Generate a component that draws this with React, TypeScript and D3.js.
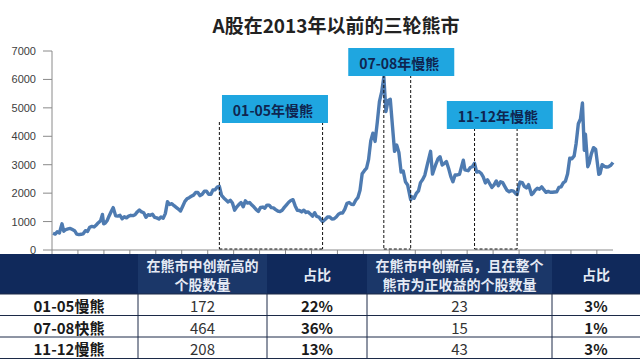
import { useEffect, useRef } from "react";
import * as d3 from "d3";

// Shanghai Composite, approx. monthly levels (with a few dated extremes)
const indexSeries: [string, number][] = [
  ["1995-01", 590], ["1995-02", 560], ["1995-03", 640], ["1995-04", 600], ["1995-05-22", 920], ["1995-06", 660],
  ["1995-07", 720], ["1995-08", 740], ["1995-09", 760], ["1995-10", 720], ["1995-11", 680], ["1995-12", 560],
  ["1996-01", 540], ["1996-02", 555], ["1996-03", 570], ["1996-04", 680], ["1996-05", 650], ["1996-06", 800],
  ["1996-07", 830], ["1996-08", 810], ["1996-09", 880], ["1996-10", 960], ["1996-11", 1030], ["1996-12-11", 1250], ["1996-12-28", 920],
  ["1997-01", 940], ["1997-02", 1030], ["1997-03", 1200], ["1997-04", 1360], ["1997-05-12", 1490], ["1997-06", 1200],
  ["1997-07", 1190], ["1997-08", 1220], ["1997-09", 1100], ["1997-10", 1170], ["1997-11", 1130], ["1997-12", 1190],
  ["1998-01", 1220], ["1998-02", 1210], ["1998-03", 1240], ["1998-04", 1340], ["1998-05", 1410], ["1998-06", 1340],
  ["1998-07", 1310], ["1998-08", 1150], ["1998-09", 1240], ["1998-10", 1220], ["1998-11", 1260], ["1998-12", 1150],
  ["1999-01", 1130], ["1999-02", 1090], ["1999-03", 1160], ["1999-04", 1120], ["1999-05", 1280], ["1999-06", 1700],
  ["1999-07", 1600], ["1999-08", 1630], ["1999-09", 1560], ["1999-10", 1500], ["1999-11", 1440], ["1999-12", 1370],
  ["2000-01", 1540], ["2000-02", 1710], ["2000-03", 1800], ["2000-04", 1840], ["2000-05", 1890], ["2000-06", 1930],
  ["2000-07", 2020], ["2000-08", 2020], ["2000-09", 1910], ["2000-10", 1960], ["2000-11", 2070], ["2000-12", 2070],
  ["2001-01", 1960], ["2001-02", 1960], ["2001-03", 2110], ["2001-04", 2120], ["2001-05", 2210], ["2001-06-14", 2240],
  ["2001-07", 1920], ["2001-08", 1830], ["2001-09", 1760], ["2001-10", 1690], ["2001-11", 1750], ["2001-12", 1650],
  ["2002-01", 1400], ["2002-02", 1520], ["2002-03", 1600], ["2002-04", 1670], ["2002-05", 1520], ["2002-06", 1730],
  ["2002-07", 1650], ["2002-08", 1670], ["2002-09", 1580], ["2002-10", 1510], ["2002-11", 1420], ["2002-12", 1360],
  ["2003-01", 1500], ["2003-02", 1510], ["2003-03", 1470], ["2003-04", 1580], ["2003-05", 1580], ["2003-06", 1490],
  ["2003-07", 1480], ["2003-08", 1420], ["2003-09", 1370], ["2003-10", 1350], ["2003-11", 1400], ["2003-12", 1500],
  ["2004-01", 1590], ["2004-02", 1680], ["2004-03", 1740], ["2004-04", 1770], ["2004-05", 1560], ["2004-06", 1400],
  ["2004-07", 1390], ["2004-08", 1340], ["2004-09", 1400], ["2004-10", 1320], ["2004-11", 1340], ["2004-12", 1270],
  ["2005-01", 1190], ["2005-02", 1310], ["2005-03", 1180], ["2005-04", 1160], ["2005-05", 1060], ["2005-06-06", 1000],
  ["2005-07", 1080], ["2005-08", 1160], ["2005-09", 1160], ["2005-10", 1090], ["2005-11", 1100], ["2005-12", 1160],
  ["2006-01", 1260], ["2006-02", 1300], ["2006-03", 1300], ["2006-04", 1440], ["2006-05", 1640], ["2006-06", 1670],
  ["2006-07", 1610], ["2006-08", 1600], ["2006-09", 1750], ["2006-10", 1840], ["2006-11", 2100], ["2006-12", 2680],
  ["2007-01", 2790], ["2007-02", 2880], ["2007-03", 3180], ["2007-04", 3840], ["2007-05", 4110], ["2007-06", 3820],
  ["2007-07", 4470], ["2007-08", 5220], ["2007-09", 5550], ["2007-10-16", 6090], ["2007-11", 4870], ["2007-12", 5260],
  ["2008-01", 5300], ["2008-02", 4350], ["2008-03", 3470], ["2008-04", 3690], ["2008-05", 3430], ["2008-06", 2740],
  ["2008-07", 2780], ["2008-08", 2400], ["2008-09", 2290], ["2008-10-28", 1770], ["2008-11", 1870], ["2008-12", 1820],
  ["2009-01", 1990], ["2009-02", 2080], ["2009-03", 2370], ["2009-04", 2480], ["2009-05", 2630], ["2009-06", 2960],
  ["2009-08-04", 3470], ["2009-08-31", 2670], ["2009-09", 2780], ["2009-10", 3000], ["2009-11", 3200], ["2009-12", 3280],
  ["2010-01", 2990], ["2010-02", 3050], ["2010-03", 3110], ["2010-04", 2870], ["2010-05", 2590], ["2010-06", 2400],
  ["2010-07", 2640], ["2010-08", 2640], ["2010-09", 2660], ["2010-11-08", 3160], ["2010-11-30", 2820], ["2010-12", 2810],
  ["2011-01", 2790], ["2011-02", 2900], ["2011-03", 2930], ["2011-04", 3050], ["2011-05", 2740], ["2011-06", 2760],
  ["2011-07", 2700], ["2011-08", 2570], ["2011-09", 2360], ["2011-10", 2470], ["2011-11", 2330], ["2011-12", 2200],
  ["2012-01", 2290], ["2012-02", 2430], ["2012-03", 2260], ["2012-04", 2400], ["2012-05", 2370], ["2012-06", 2230],
  ["2012-07", 2100], ["2012-08", 2050], ["2012-09", 2090], ["2012-10", 2070], ["2012-11", 1980], ["2012-12-04", 1950], ["2012-12-31", 2270],
  ["2013-01", 2390], ["2013-02", 2370], ["2013-03", 2240], ["2013-04", 2180], ["2013-05", 2300], ["2013-06-25", 1950],
  ["2013-07", 1990], ["2013-08", 2100], ["2013-09", 2170], ["2013-10", 2140], ["2013-11", 2220], ["2013-12", 2120],
  ["2014-01", 2030], ["2014-02", 2060], ["2014-03", 2030], ["2014-04", 2030], ["2014-05", 2040], ["2014-06", 2050],
  ["2014-07", 2200], ["2014-08", 2220], ["2014-09", 2360], ["2014-10", 2420], ["2014-11", 2680], ["2014-12", 3230],
  ["2015-01", 3210], ["2015-02", 3310], ["2015-03", 3750], ["2015-04", 4440], ["2015-05", 4610], ["2015-06-12", 5170],
  ["2015-07-08", 3510], ["2015-07-24", 4070], ["2015-08-26", 2930], ["2015-09", 3050], ["2015-10", 3380], ["2015-11", 3600], ["2015-12", 3540],
  ["2016-01-28", 2660], ["2016-02", 2690], ["2016-03", 3000], ["2016-04", 2940], ["2016-05", 2920], ["2016-06", 2930],
  ["2016-07", 2980], ["2016-08", 3080],
];

const bearPeriods = [
  { start: "2001-06-14", end: "2005-06-06", label: "01-05年慢熊" },
  { start: "2007-10-16", end: "2008-10-28", label: "07-08年慢熊" },
  { start: "2011-04-15", end: "2012-12-04", label: "11-12年慢熊" },
];

const yTicks = [0, 1000, 2000, 3000, 4000, 5000, 6000, 7000];

const tableHeaders = [
  [],
  ["在熊市中创新高的", "个股数量"],
  ["占比"],
  ["在熊市中创新高，且在整个", "熊市为正收益的个股数量"],
  ["占比"],
];
const rowLabels = ["01-05慢熊", "07-08快熊", "11-12慢熊"];
const newHighCounts = ["172", "464", "208"];
const newHighShares = ["22%", "36%", "13%"];
const positiveCounts = ["23", "15", "43"];
const positiveShares = ["3%", "1%", "3%"];

const FONT = "'Noto Sans CJK SC', 'Liberation Sans', sans-serif";

const parseDate = (s: string) => {
  const p = s.split("-").map(Number);
  return new Date(p[0], p[1] - 1, p[2] ?? 15);
};

export default function App() {
  const svgRef = useRef<SVGSVGElement>(null);

  useEffect(() => {
    document.body.style.margin = "0";
    if (!svgRef.current) return;
    const svg = d3.select(svgRef.current);
    svg.selectAll("*").remove();

    const width = 640;
    const height = 361;
    svg.attr("width", width).attr("height", height).style("background", "#fff");

    // ── Scales ─────────────────────────────────────────
    const x = d3.scaleTime()
      .domain([new Date(1995, 0, 1), new Date(2016, 7, 15)])
      .range([52, 613]);
    const y = d3.scaleLinear().domain([0, 7000]).range([250, 51]);

    // ── Title ──────────────────────────────────────────
    svg.append("text")
      .attr("x", 336).attr("y", 33)
      .attr("text-anchor", "middle")
      .attr("font-family", FONT)
      .attr("font-size", 19)
      .attr("font-weight", "bold")
      .attr("fill", "#222")
      .text("A股在2013年以前的三轮熊市");

    // ── Axes ───────────────────────────────────────────
    const axisColor = "#8a8a8a";
    svg.append("line")
      .attr("x1", x.range()[0]).attr("x2", x.range()[0])
      .attr("y1", y(0)).attr("y2", y(7000))
      .attr("stroke", axisColor);
    yTicks.forEach((t) => {
      svg.append("line")
        .attr("x1", x.range()[0] - 9).attr("x2", x.range()[0])
        .attr("y1", y(t)).attr("y2", y(t))
        .attr("stroke", axisColor);
      svg.append("text")
        .attr("x", 36).attr("y", y(t))
        .attr("text-anchor", "end")
        .attr("dominant-baseline", "central")
        .attr("font-family", "'Liberation Sans', Arial, sans-serif")
        .attr("font-size", 11)
        .attr("fill", "#404040")
        .text(t);
    });

    svg.append("line")
      .attr("x1", x.range()[0]).attr("x2", x.range()[1])
      .attr("y1", y(0)).attr("y2", y(0))
      .attr("stroke", axisColor);
    d3.timeYear.range(new Date(1995, 0, 1), new Date(2016, 8, 1)).forEach((d) => {
      svg.append("line")
        .attr("x1", x(d)).attr("x2", x(d))
        .attr("y1", y(0)).attr("y2", y(0) + 4)
        .attr("stroke", axisColor);
    });

    // ── Index line ─────────────────────────────────────
    const points = indexSeries
      .map(([d, v]) => ({ date: parseDate(d), value: v }))
      .sort((a, b) => +a.date - +b.date);
    const line = d3.line<{ date: Date; value: number }>()
      .x((d) => x(d.date))
      .y((d) => y(d.value));
    svg.append("path")
      .attr("d", line(points))
      .attr("fill", "none")
      .attr("stroke", "#4e7bb1")
      .attr("stroke-width", 3.4)
      .attr("stroke-linejoin", "round");

    // ── Bear market brackets + labels ──────────────────
    const boxTop = [95, 48, 101];
    const boxW = 106;
    const boxH = 28;
    bearPeriods.forEach((p, i) => {
      const x1 = x(parseDate(p.start));
      const x2 = x(parseDate(p.end));
      const yb = y(0) - 1;
      const top = boxTop[i] + boxH - 1;
      const seg = (ax: number, ay: number, bx: number, by: number) =>
        svg.append("line")
          .attr("x1", ax).attr("y1", ay).attr("x2", bx).attr("y2", by)
          .attr("stroke", "#111")
          .attr("stroke-width", 1)
          .attr("stroke-dasharray", "3,2");
      seg(x1, top, x1, yb);
      seg(x2, top, x2, yb);
      seg(x1, yb, x2, yb);

      const cx = (x1 + x2) / 2 + 4;
      svg.append("rect")
        .attr("x", cx - boxW / 2).attr("y", boxTop[i])
        .attr("width", boxW).attr("height", boxH)
        .attr("fill", "#1fa6e0");
      svg.append("text")
        .attr("x", cx - 2).attr("y", boxTop[i] + boxH / 2 + 1)
        .attr("text-anchor", "middle")
        .attr("dominant-baseline", "central")
        .attr("font-family", FONT)
        .attr("font-size", 14)
        .attr("font-weight", "bold")
        .attr("fill", "#0f2550")
        .text(p.label);
    });

    // ── Table ──────────────────────────────────────────
    const colEdges = [0, 138, 267, 367, 552, 640];
    const headTop = 254;
    const headBottom = 294;
    const rowH = 21.5;
    const headFill = ["#10295b", "#1b3769", "#10295b", "#1b3769", "#10295b"];

    headFill.forEach((f, c) => {
      svg.append("rect")
        .attr("x", colEdges[c]).attr("y", headTop)
        .attr("width", colEdges[c + 1] - colEdges[c])
        .attr("height", headBottom - headTop)
        .attr("fill", f);
    });
    tableHeaders.forEach((lines, c) => {
      const cx = (colEdges[c] + colEdges[c + 1]) / 2;
      lines.forEach((t, k) => {
        const cy = lines.length === 1 ? (headTop + headBottom) / 2 : headTop + 10.5 + k * 19;
        svg.append("text")
          .attr("x", cx).attr("y", cy)
          .attr("text-anchor", "middle")
          .attr("dominant-baseline", "central")
          .attr("font-family", FONT)
          .attr("font-size", 14)
          .attr("font-weight", "bold")
          .attr("fill", "#e6ebf5")
          .text(t);
      });
    });

    const columns = [rowLabels, newHighCounts, newHighShares, positiveCounts, positiveShares];
    const boldCol = [true, false, true, false, true];
    rowLabels.forEach((_, r) => {
      const cy = headBottom + r * rowH + rowH / 2;
      columns.forEach((col, c) => {
        svg.append("text")
          .attr("x", (colEdges[c] + colEdges[c + 1]) / 2).attr("y", cy + 1)
          .attr("text-anchor", "middle")
          .attr("dominant-baseline", "central")
          .attr("font-family", FONT)
          .attr("font-size", 15)
          .attr("font-weight", boldCol[c] ? "bold" : "normal")
          .attr("fill", boldCol[c] ? "#1a1a1a" : "#333")
          .text(col[r]);
      });
    });

    const gridColor = "#1c2a48";
    for (let r = 0; r <= rowLabels.length; r++) {
      const yy = headBottom + r * rowH;
      svg.append("line")
        .attr("x1", 0).attr("x2", width)
        .attr("y1", yy).attr("y2", yy)
        .attr("stroke", gridColor).attr("stroke-width", 1);
    }
    colEdges.slice(1, -1).forEach((cx) => {
      svg.append("line")
        .attr("x1", cx).attr("x2", cx)
        .attr("y1", headBottom).attr("y2", headBottom + rowLabels.length * rowH)
        .attr("stroke", gridColor).attr("stroke-width", 1);
    });
  }, []);

  return <svg ref={svgRef} style={{ display: "block" }} />;
}
